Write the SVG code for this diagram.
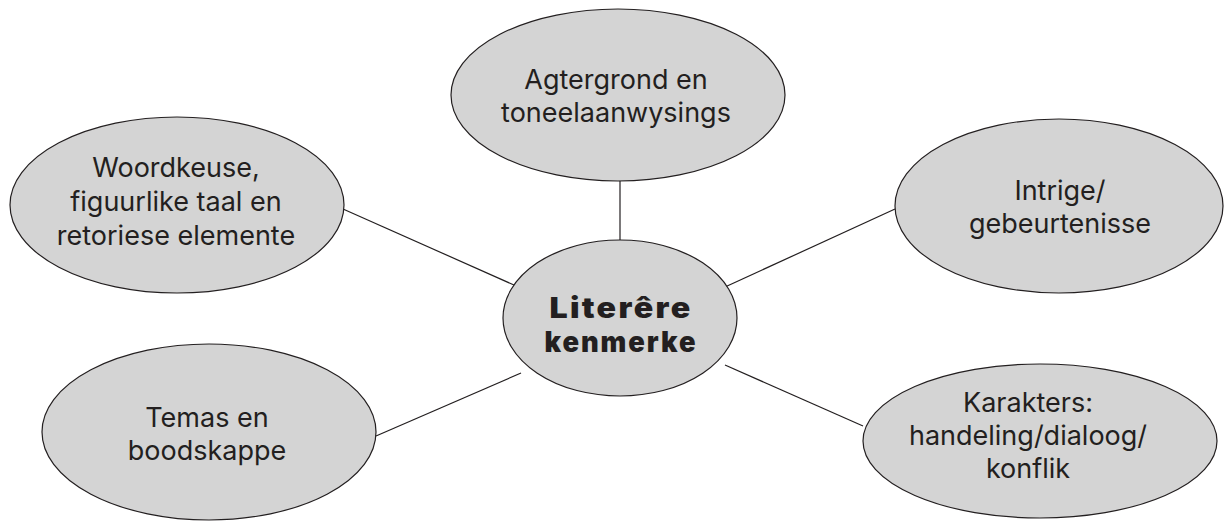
<svg xmlns="http://www.w3.org/2000/svg" width="1226" height="521" viewBox="0 0 1226 521">
<style>
.node ellipse{fill:#d4d4d4;stroke:#231f20;stroke-width:1.2}
.lbl{font-family:Inter,"Open Sans","Liberation Sans",sans-serif;font-size:27px;fill:#231f20;text-anchor:middle}
.ctr{font-family:Inter,"DejaVu Sans","Liberation Sans",sans-serif;font-weight:900;font-size:28px;letter-spacing:2px;fill:#231f20;text-anchor:middle}
.conn line{stroke:#231f20;stroke-width:1.2}
</style>
<rect width="1226" height="521" fill="#ffffff"/>
<g id="connectors" class="conn">
<line x1="620" y1="181" x2="620" y2="240"/>
<line x1="343" y1="209" x2="514" y2="285"/>
<line x1="895" y1="209" x2="725" y2="287"/>
<line x1="863" y1="426" x2="725" y2="365"/>
<line x1="376" y1="436" x2="521" y2="373"/>
</g>
<g id="n-top" class="node">
<ellipse cx="618" cy="95" rx="167" ry="86"/>
<text class="lbl" x="616" y="89">Agtergrond en</text>
<text class="lbl" x="616" y="122">toneelaanwysings</text>
</g>
<g id="n-woord" class="node">
<ellipse cx="177" cy="205" rx="167" ry="88"/>
<text class="lbl" x="176" y="177">Woordkeuse,</text>
<text class="lbl" x="176" y="211">figuurlike taal en</text>
<text class="lbl" x="176" y="245">retoriese elemente</text>
</g>
<g id="n-intrige" class="node">
<ellipse cx="1059" cy="206" rx="164" ry="87"/>
<text class="lbl" x="1060" y="200">Intrige/</text>
<text class="lbl" x="1060" y="233">gebeurtenisse</text>
</g>
<g id="n-karakters" class="node">
<ellipse cx="1040" cy="441" rx="177" ry="77"/>
<text class="lbl" x="1028" y="412">Karakters:</text>
<text class="lbl" x="1028" y="445">handeling/dialoog/</text>
<text class="lbl" x="1028" y="478">konflik</text>
</g>
<g id="n-temas" class="node">
<ellipse cx="209" cy="432" rx="167" ry="88"/>
<text class="lbl" x="207" y="427">Temas en</text>
<text class="lbl" x="207" y="460">boodskappe</text>
</g>
<g id="n-center" class="node">
<ellipse cx="620" cy="318" rx="117" ry="78"/>
<text class="ctr" x="621" y="318" textLength="143" lengthAdjust="spacingAndGlyphs">Literêre</text>
<text class="ctr" x="621" y="352" textLength="153" lengthAdjust="spacingAndGlyphs">kenmerke</text>
</g>
</svg>
